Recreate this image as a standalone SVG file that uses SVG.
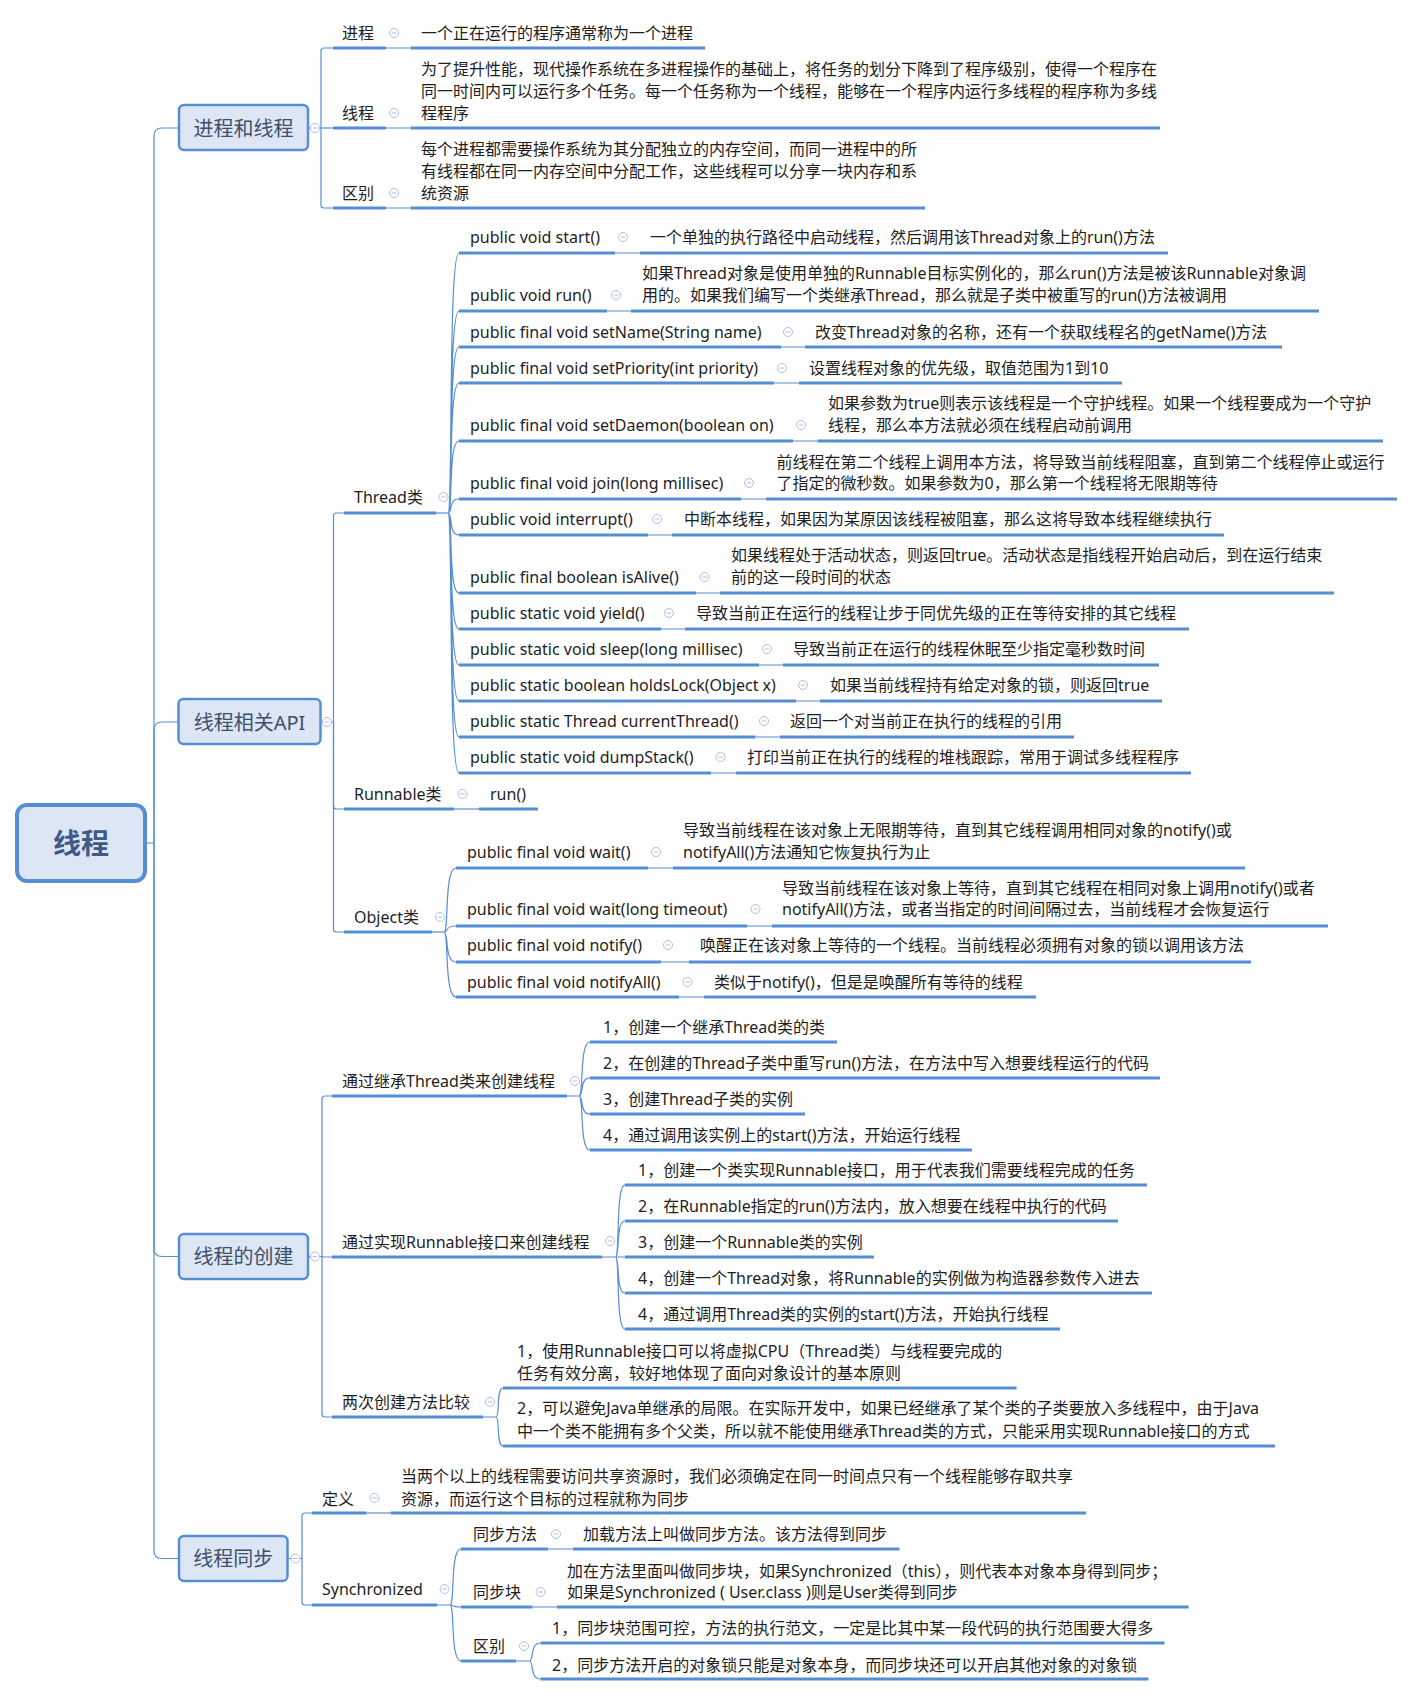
<svg xmlns="http://www.w3.org/2000/svg" width="1414" height="1696" viewBox="0 0 1414 1696">
<style>
text{font-family:"Noto Sans","Noto Sans CJK SC",sans-serif;font-size:16px;fill:#1e1e1e}
.ul{stroke:#558ED5;stroke-width:3;fill:none}
.cn{stroke:#558ED5;stroke-width:1.2;fill:none}
.box{fill:#DCE6F4;stroke:#558ED5;stroke-width:2.5}
.bt{font-size:20px;fill:#3E4F6C;text-anchor:middle}
.rt{font-size:28px;font-weight:bold;fill:#3E5A86;text-anchor:middle}
</style>
<defs>
<g id="col"><circle r="4.5" fill="#fff" stroke="#AFC0E2" stroke-width="1"/><line x1="-2.3" y1="0" x2="2.3" y2="0" stroke="#AFC0E2" stroke-width="1"/></g>
</defs>
<rect width="1414" height="1696" fill="#fff"/>

<g id="connectors">
<path class="cn" d="M145,843 H154 V136 Q154,128 162,128 H179"/>
<path class="cn" d="M154,843 V730 Q154,722 162,722 H178.5"/>
<path class="cn" d="M154,843 V1248.5 Q154,1256.5 162,1256.5 H179"/>
<path class="cn" d="M154,843 V1550.5 Q154,1558.5 162,1558.5 H179"/>
<!-- section 1 -->
<path class="cn" d="M308,128 H333"/>
<path class="cn" d="M321,128 V51 Q321,48 324,48 H333"/>
<path class="cn" d="M321,128 V205 Q321,208 324,208 H333"/>
<path class="cn" d="M386,48 H411 M386,128 H411 M386,208 H411"/>
<!-- API -->
<path class="cn" d="M320.5,722 H333.5 V516 Q333.5,513 336.5,513 H344"/>
<path class="cn" d="M333.5,722 V806 Q333.5,809 336.5,809 H344"/>
<path class="cn" d="M333.5,722 V929 Q333.5,932 336.5,932 H344"/>
<path class="cn" d="M436,513 H448"/>
<path class="cn" d="M448,513 C453,513 448,253 459,253 M448,513 C453,513 448,311 459,311 M448,513 C453,513 448,347 459,347 M448,513 C453,513 448,383 459,383 M448,513 C453,513 448,441 459,441 M448,513 C453,513 448,499 459,499 M448,513 C453,513 448,535 459,535 M448,513 C453,513 448,593 459,593 M448,513 C453,513 448,629 459,629 M448,513 C453,513 448,665 459,665 M448,513 C453,513 448,701 459,701 M448,513 C453,513 448,737 459,737 M448,513 C453,513 448,773 459,773"/>
<path class="cn" d="M615,253 H640 M607,311 H631 M781,347 H805 M774,383 H799 M793,441 H817.5 M741,499 H766 M648,535 H672 M696,593 H720 M661,629 H685 M759,665 H783 M796,701 H820 M755.5,737 H780 M711,773 H736"/>
<path class="cn" d="M454,809 H479"/>
<path class="cn" d="M432,932 H444"/>
<path class="cn" d="M444,932 C449,932 444,868 456,868 M444,932 C449,932 444,926 456,926 M444,932 C449,932 444,962 456,962 M444,932 C449,932 444,997 456,997"/>
<path class="cn" d="M648,868 H673 M747,926 H772 M661,962 H689 M679,997 H704"/>
<!-- creation -->
<path class="cn" d="M308,1256.5 H322 V1099 Q322,1096 325,1096 H332"/>
<path class="cn" d="M322,1256.5 V1257 H332"/>
<path class="cn" d="M322,1256.5 V1414 Q322,1417 325,1417 H332"/>
<path class="cn" d="M567,1096 H579 M579,1096 C584,1096 579,1042 590,1042 M579,1096 C584,1096 579,1078 590,1078 M579,1096 C584,1096 579,1114 590,1114 M579,1096 C584,1096 579,1150 590,1150"/>
<path class="cn" d="M602,1257 H615.5 M615.5,1257 C620,1257 615.5,1185 625,1185 M615.5,1257 C620,1257 615.5,1221 625,1221 M615.5,1257 H625 M615.5,1257 C620,1257 615.5,1293 625,1293 M615.5,1257 C620,1257 615.5,1329 625,1329"/>
<path class="cn" d="M483,1417 H496 M496,1417 C500,1417 496,1388 503,1388 M496,1417 C500,1417 496,1446 503,1446"/>
<!-- sync -->
<path class="cn" d="M287.5,1558.5 H302 V1516 Q302,1513 305,1513 H311.6"/>
<path class="cn" d="M302,1558.5 V1602 Q302,1605 305,1605 H311.6"/>
<path class="cn" d="M366.5,1513 H391"/>
<path class="cn" d="M437,1605 H450 M450,1605 C455,1605 450,1549 461,1549 M450,1605 C455,1605 450,1607 461,1607 M450,1605 C455,1605 450,1661 461,1661"/>
<path class="cn" d="M548,1549 H573 M532.6,1607 H557"/>
<path class="cn" d="M516,1661 H529.5 M529.5,1661 C534,1661 529.5,1643 540.6,1643 M529.5,1661 C534,1661 529.5,1679 540.6,1679"/>
</g>

<g id="root">
<rect x="17" y="805" width="128" height="76" rx="10" fill="#DCE6F4" stroke="#558ED5" stroke-width="4"/>
<text class="rt" x="81" y="853.5">线程</text>
</g>

<!-- Section 1 -->
<g id="n-process-thread">
<rect class="box" x="179" y="105" width="129" height="45" rx="5"/>
<text class="bt" x="243.5" y="135.5">进程和线程</text>
<use href="#col" x="315" y="128"/>
</g>
<g id="n-jincheng"><text x="342" y="39">进程</text><line class="ul" x1="333" y1="48" x2="386" y2="48"/><use href="#col" x="394" y="33"/></g>
<g id="n-jincheng-d"><text x="421" y="39">一个正在运行的程序通常称为一个进程</text><line class="ul" x1="411" y1="48" x2="705" y2="48"/></g>
<g id="n-xiancheng"><text x="342" y="119">线程</text><line class="ul" x1="333" y1="128" x2="386" y2="128"/><use href="#col" x="394" y="113"/></g>
<g id="n-xiancheng-d"><text x="421" y="75">为了提升性能，现代操作系统在多进程操作的基础上，将任务的划分下降到了程序级别，使得一个程序在</text><text x="421" y="97">同一时间内可以运行多个任务。每一个任务称为一个线程，能够在一个程序内运行多线程的程序称为多线</text><text x="421" y="119">程程序</text><line class="ul" x1="411" y1="128" x2="1160" y2="128"/></g>
<g id="n-qubie1"><text x="342" y="199">区别</text><line class="ul" x1="333" y1="208" x2="386" y2="208"/><use href="#col" x="394" y="193"/></g>
<g id="n-qubie1-d"><text x="421" y="155">每个进程都需要操作系统为其分配独立的内存空间，而同一进程中的所</text><text x="421" y="177">有线程都在同一内存空间中分配工作，这些线程可以分享一块内存和系</text><text x="421" y="199">统资源</text><line class="ul" x1="411" y1="208" x2="925" y2="208"/></g>

<!-- API -->
<g id="n-api">
<rect class="box" x="178.5" y="699" width="142" height="45" rx="5"/>
<text class="bt" x="249.5" y="729.5">线程相关API</text>
<use href="#col" x="327" y="722"/>
</g>
<g id="n-threadcls"><text x="354" y="503">Thread类</text><line class="ul" x1="344" y1="513" x2="436" y2="513"/><use href="#col" x="443.5" y="497"/></g>

<g id="n-start"><text x="470" y="243">public void start()</text><line class="ul" x1="459" y1="253" x2="615" y2="253"/><use href="#col" x="623" y="237"/></g>
<g id="n-start-d"><text x="650" y="243">一个单独的执行路径中启动线程，然后调用该Thread对象上的run()方法</text><line class="ul" x1="640" y1="253" x2="1168" y2="253"/></g>

<g id="n-run"><text x="470" y="301">public void run()</text><line class="ul" x1="459" y1="311" x2="607" y2="311"/><use href="#col" x="616" y="295"/></g>
<g id="n-run-d"><text x="642" y="279">如果Thread对象是使用单独的Runnable目标实例化的，那么run()方法是被该Runnable对象调</text><text x="642" y="301">用的。如果我们编写一个类继承Thread，那么就是子类中被重写的run()方法被调用</text><line class="ul" x1="631" y1="311" x2="1319" y2="311"/></g>

<g id="n-setname"><text x="470" y="338">public final void setName(String name)</text><line class="ul" x1="459" y1="347" x2="781" y2="347"/><use href="#col" x="788" y="332"/></g>
<g id="n-setname-d"><text x="815" y="338">改变Thread对象的名称，还有一个获取线程名的getName()方法</text><line class="ul" x1="805" y1="347" x2="1282" y2="347"/></g>

<g id="n-setprio"><text x="470" y="374">public final void setPriority(int priority)</text><line class="ul" x1="459" y1="383" x2="774" y2="383"/><use href="#col" x="782" y="368"/></g>
<g id="n-setprio-d"><text x="809" y="374">设置线程对象的优先级，取值范围为1到10</text><line class="ul" x1="799" y1="383" x2="1122" y2="383"/></g>

<g id="n-daemon"><text x="470" y="431">public final void setDaemon(boolean on)</text><line class="ul" x1="459" y1="441" x2="793" y2="441"/><use href="#col" x="801" y="425"/></g>
<g id="n-daemon-d"><text x="828" y="409">如果参数为true则表示该线程是一个守护线程。如果一个线程要成为一个守护</text><text x="828" y="431">线程，那么本方法就必须在线程启动前调用</text><line class="ul" x1="817.5" y1="441" x2="1383" y2="441"/></g>

<g id="n-join"><text x="470" y="489">public final void join(long millisec)</text><line class="ul" x1="459" y1="499" x2="741" y2="499"/><use href="#col" x="749" y="483"/></g>
<g id="n-join-d"><text x="776.5" y="468">前线程在第二个线程上调用本方法，将导致当前线程阻塞，直到第二个线程停止或运行</text><text x="776.5" y="489">了指定的微秒数。如果参数为0，那么第一个线程将无限期等待</text><line class="ul" x1="766" y1="499" x2="1397" y2="499"/></g>

<g id="n-interrupt"><text x="470" y="525">public void interrupt()</text><line class="ul" x1="459" y1="535" x2="648" y2="535"/><use href="#col" x="657" y="519"/></g>
<g id="n-interrupt-d"><text x="684" y="525">中断本线程，如果因为某原因该线程被阻塞，那么这将导致本线程继续执行</text><line class="ul" x1="672" y1="535" x2="1224" y2="535"/></g>

<g id="n-isalive"><text x="470" y="583">public final boolean isAlive()</text><line class="ul" x1="459" y1="593" x2="696" y2="593"/><use href="#col" x="704.5" y="577"/></g>
<g id="n-isalive-d"><text x="731" y="561">如果线程处于活动状态，则返回true。活动状态是指线程开始启动后，到在运行结束</text><text x="731" y="583">前的这一段时间的状态</text><line class="ul" x1="720" y1="593" x2="1334" y2="593"/></g>

<g id="n-yield"><text x="470" y="619">public static void yield()</text><line class="ul" x1="459" y1="629" x2="661" y2="629"/><use href="#col" x="669" y="613"/></g>
<g id="n-yield-d"><text x="696" y="619">导致当前正在运行的线程让步于同优先级的正在等待安排的其它线程</text><line class="ul" x1="685" y1="629" x2="1189" y2="629"/></g>

<g id="n-sleep"><text x="470" y="655">public static void sleep(long millisec)</text><line class="ul" x1="459" y1="665" x2="759" y2="665"/><use href="#col" x="767" y="649"/></g>
<g id="n-sleep-d"><text x="793" y="655">导致当前正在运行的线程休眠至少指定毫秒数时间</text><line class="ul" x1="783" y1="665" x2="1159" y2="665"/></g>

<g id="n-holdslock"><text x="470" y="691">public static boolean holdsLock(Object x)</text><line class="ul" x1="459" y1="701" x2="796" y2="701"/><use href="#col" x="803" y="685"/></g>
<g id="n-holdslock-d"><text x="830" y="691">如果当前线程持有给定对象的锁，则返回true</text><line class="ul" x1="820" y1="701" x2="1162" y2="701"/></g>

<g id="n-current"><text x="470" y="727">public static Thread currentThread()</text><line class="ul" x1="459" y1="737" x2="755.5" y2="737"/><use href="#col" x="764" y="721"/></g>
<g id="n-current-d"><text x="790" y="727">返回一个对当前正在执行的线程的引用</text><line class="ul" x1="780" y1="737" x2="1074" y2="737"/></g>

<g id="n-dump"><text x="470" y="763">public static void dumpStack()</text><line class="ul" x1="459" y1="773" x2="711" y2="773"/><use href="#col" x="720.5" y="757"/></g>
<g id="n-dump-d"><text x="747" y="763">打印当前正在执行的线程的堆栈跟踪，常用于调试多线程程序</text><line class="ul" x1="736" y1="773" x2="1191" y2="773"/></g>

<g id="n-runnablecls"><text x="354" y="800">Runnable类</text><line class="ul" x1="344" y1="809" x2="454" y2="809"/><use href="#col" x="462.5" y="794"/></g>
<g id="n-runnable-run"><text x="490" y="800">run()</text><line class="ul" x1="479" y1="809" x2="538" y2="809"/></g>

<g id="n-objectcls"><text x="354" y="923">Object类</text><line class="ul" x1="344" y1="932" x2="432" y2="932"/><use href="#col" x="440" y="917"/></g>
<g id="n-wait"><text x="467" y="858">public final void wait()</text><line class="ul" x1="456" y1="868" x2="648" y2="868"/><use href="#col" x="656" y="852"/></g>
<g id="n-wait-d"><text x="683" y="836">导致当前线程在该对象上无限期等待，直到其它线程调用相同对象的notify()或</text><text x="683" y="858">notifyAll()方法通知它恢复执行为止</text><line class="ul" x1="673" y1="868" x2="1245" y2="868"/></g>
<g id="n-waitt"><text x="467" y="915">public final void wait(long timeout)</text><line class="ul" x1="456" y1="926" x2="747" y2="926"/><use href="#col" x="755.5" y="909"/></g>
<g id="n-waitt-d"><text x="782" y="894">导致当前线程在该对象上等待，直到其它线程在相同对象上调用notify()或者</text><text x="782" y="915">notifyAll()方法，或者当指定的时间间隔过去，当前线程才会恢复运行</text><line class="ul" x1="772" y1="926" x2="1328" y2="926"/></g>
<g id="n-notify"><text x="467" y="951">public final void notify()</text><line class="ul" x1="456" y1="962" x2="661" y2="962"/><use href="#col" x="668" y="945"/></g>
<g id="n-notify-d"><text x="700" y="951">唤醒正在该对象上等待的一个线程。当前线程必须拥有对象的锁以调用该方法</text><line class="ul" x1="689" y1="962" x2="1251" y2="962"/></g>
<g id="n-notifyall"><text x="467" y="988">public final void notifyAll()</text><line class="ul" x1="456" y1="997" x2="679" y2="997"/><use href="#col" x="687.5" y="982"/></g>
<g id="n-notifyall-d"><text x="714" y="988">类似于notify()，但是是唤醒所有等待的线程</text><line class="ul" x1="704" y1="997" x2="1036" y2="997"/></g>

<!-- Creation -->
<g id="n-create">
<rect class="box" x="179" y="1234" width="129" height="45" rx="5"/>
<text class="bt" x="243.5" y="1264">线程的创建</text>
<use href="#col" x="315" y="1256.5"/>
</g>
<g id="n-ext"><text x="342" y="1087">通过继承Thread类来创建线程</text><line class="ul" x1="332" y1="1096" x2="567" y2="1096"/><use href="#col" x="575" y="1081"/></g>
<g id="n-ext1"><text x="603" y="1033">1，创建一个继承Thread类的类</text><line class="ul" x1="590" y1="1042" x2="837" y2="1042"/></g>
<g id="n-ext2"><text x="603" y="1069">2，在创建的Thread子类中重写run()方法，在方法中写入想要线程运行的代码</text><line class="ul" x1="590" y1="1078" x2="1160" y2="1078"/></g>
<g id="n-ext3"><text x="603" y="1105">3，创建Thread子类的实例</text><line class="ul" x1="590" y1="1114" x2="805" y2="1114"/></g>
<g id="n-ext4"><text x="603" y="1141">4，通过调用该实例上的start()方法，开始运行线程</text><line class="ul" x1="590" y1="1150" x2="972" y2="1150"/></g>

<g id="n-impl"><text x="342" y="1248">通过实现Runnable接口来创建线程</text><line class="ul" x1="332" y1="1257" x2="602" y2="1257"/><use href="#col" x="610" y="1241"/></g>
<g id="n-impl1"><text x="638" y="1176">1，创建一个类实现Runnable接口，用于代表我们需要线程完成的任务</text><line class="ul" x1="625" y1="1185" x2="1147" y2="1185"/></g>
<g id="n-impl2"><text x="638" y="1212">2，在Runnable指定的run()方法内，放入想要在线程中执行的代码</text><line class="ul" x1="625" y1="1221" x2="1118" y2="1221"/></g>
<g id="n-impl3"><text x="638" y="1248">3，创建一个Runnable类的实例</text><line class="ul" x1="625" y1="1257" x2="874" y2="1257"/></g>
<g id="n-impl4"><text x="638" y="1284">4，创建一个Thread对象，将Runnable的实例做为构造器参数传入进去</text><line class="ul" x1="625" y1="1293" x2="1152" y2="1293"/></g>
<g id="n-impl5"><text x="638" y="1320">4，通过调用Thread类的实例的start()方法，开始执行线程</text><line class="ul" x1="625" y1="1329" x2="1060" y2="1329"/></g>

<g id="n-cmp"><text x="342" y="1408">两次创建方法比较</text><line class="ul" x1="332" y1="1417" x2="483" y2="1417"/><use href="#col" x="490" y="1402"/></g>
<g id="n-cmp1"><text x="517" y="1357">1，使用Runnable接口可以将虚拟CPU（Thread类）与线程要完成的</text><text x="517" y="1379">任务有效分离，较好地体现了面向对象设计的基本原则</text><line class="ul" x1="503" y1="1388" x2="1016.5" y2="1388"/></g>
<g id="n-cmp2"><text x="517" y="1414">2，可以避免Java单继承的局限。在实际开发中，如果已经继承了某个类的子类要放入多线程中，由于Java</text><text x="517" y="1437">中一个类不能拥有多个父类，所以就不能使用继承Thread类的方式，只能采用实现Runnable接口的方式</text><line class="ul" x1="503" y1="1446" x2="1275" y2="1446"/></g>

<!-- Sync -->
<g id="n-sync">
<rect class="box" x="179" y="1536" width="108.5" height="45" rx="5"/>
<text class="bt" x="233.25" y="1566">线程同步</text>
<use href="#col" x="295.5" y="1558.5"/>
</g>
<g id="n-def"><text x="322" y="1505">定义</text><line class="ul" x1="311.6" y1="1513" x2="366.5" y2="1513"/><use href="#col" x="374.5" y="1498"/></g>
<g id="n-def-d"><text x="401" y="1482">当两个以上的线程需要访问共享资源时，我们必须确定在同一时间点只有一个线程能够存取共享</text><text x="401" y="1505">资源，而运行这个目标的过程就称为同步</text><line class="ul" x1="391" y1="1513" x2="1086" y2="1513"/></g>
<g id="n-synchronized"><text x="322" y="1595">Synchronized</text><line class="ul" x1="311.6" y1="1605" x2="437" y2="1605"/><use href="#col" x="444.6" y="1589"/></g>
<g id="n-smethod"><text x="473" y="1540">同步方法</text><line class="ul" x1="461" y1="1549" x2="548" y2="1549"/><use href="#col" x="556" y="1534"/></g>
<g id="n-smethod-d"><text x="583" y="1540">加载方法上叫做同步方法。该方法得到同步</text><line class="ul" x1="573" y1="1549" x2="899.5" y2="1549"/></g>
<g id="n-sblock"><text x="473" y="1598">同步块</text><line class="ul" x1="461" y1="1607" x2="532.6" y2="1607"/><use href="#col" x="540.6" y="1592"/></g>
<g id="n-sblock-d"><text x="567" y="1577">加在方法里面叫做同步块，如果Synchronized（this），则代表本对象本身得到同步；</text><text x="567" y="1598">如果是Synchronized ( User.class )则是User类得到同步</text><line class="ul" x1="557" y1="1607" x2="1188.6" y2="1607"/></g>
<g id="n-qubie2"><text x="473" y="1652">区别</text><line class="ul" x1="461" y1="1661" x2="516" y2="1661"/><use href="#col" x="524" y="1646"/></g>
<g id="n-qubie2-1"><text x="552" y="1634">1，同步块范围可控，方法的执行范文，一定是比其中某一段代码的执行范围要大得多</text><line class="ul" x1="540.6" y1="1643" x2="1164.5" y2="1643"/></g>
<g id="n-qubie2-2"><text x="552" y="1671">2，同步方法开启的对象锁只能是对象本身，而同步块还可以开启其他对象的对象锁</text><line class="ul" x1="540.6" y1="1679" x2="1148.5" y2="1679"/></g>
</svg>
